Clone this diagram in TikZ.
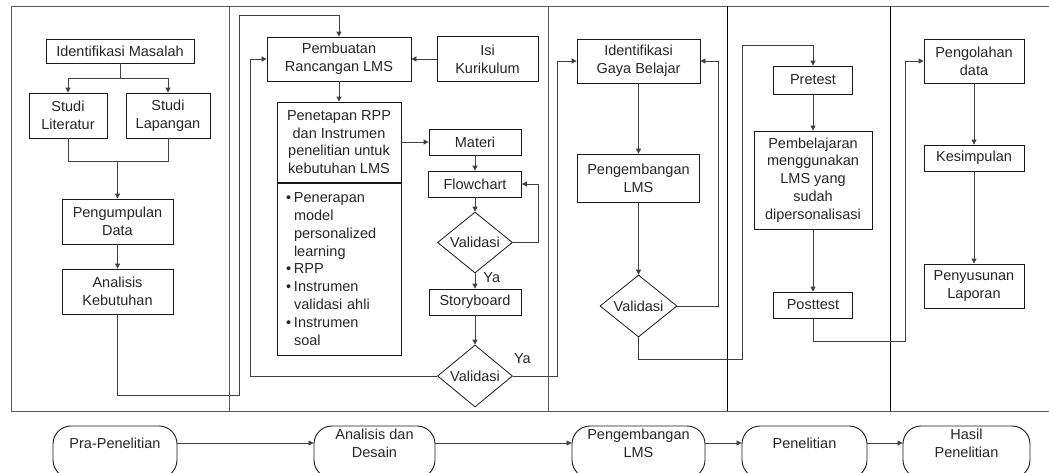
\documentclass[tikz,border=0pt]{standalone}
\usepackage{fontspec}
\setmainfont{Liberation Sans}
\usetikzlibrary{shapes.geometric,arrows.meta}

\newcommand{\flowfont}{\fontsize{14.5}{17.8}\selectfont}

\tikzset{
  box/.style={draw=black!90, line width=0.8pt, fill=white, text=black!85,
    inner sep=1pt, align=center, font=\flowfont},
  decision/.style={diamond, draw=black!90, line width=0.8pt, fill=white,
    text=black!85, inner sep=0pt, font=\flowfont,
    minimum width=75pt, minimum height=61pt},
  phase/.style={draw=black!90, line width=0.9pt, rounded corners=18pt,
    minimum height=52pt},
  phasetext/.style={text=black!85, align=center, font=\flowfont},
  conn/.style={draw=black!75, line width=0.8pt,
    -{Triangle[length=5pt,width=5pt]}},
  yalabel/.style={text=black!85, inner sep=2pt, font=\flowfont},
  frame/.style={draw=black!65, line width=1pt}
}

\begin{document}
\begin{tikzpicture}[x=1pt, y=-1pt]
   \useasboundingbox (0,0) rectangle (1049,472);

   % Frame and columns
   \draw[frame] (11,411) -- (11,6) -- (1049,6);
   \draw[frame] (11,411) -- (1049,411);
   \draw[frame] (229,6) -- (229,411);
   \draw[frame] (548,6) -- (548,411);
   \draw[frame, draw=black] (727,6) -- (727,411);
   \draw[frame, draw=black] (890,6) -- (890,411);

   % First column - Pra-Penelitian
   \begin{scope}
       \node[box, minimum width=148pt, minimum height=24pt] (im) at (120,51) {Identifikasi Masalah};
       \node[box, minimum width=78pt, minimum height=45pt] (slit) at (68,115.5) {Studi\\Literatur};
       \node[box, minimum width=84pt, minimum height=45pt] (slap) at (168,115.5) {Studi\\Lapangan};
       \node[box, minimum width=111pt, minimum height=45pt] (pd) at (117.5,221.5) {Pengumpulan\\Data};
       \node[box, minimum width=111pt, minimum height=45pt] (ak) at (117.5,291.5) {Analisis\\Kebutuhan};

       \draw[conn] (im.south) -- ++(0,15) -| (slit.north);
       \draw[conn] (im.south) -- ++(0,15) -| (slap.north);
       \draw[conn, -] (slit.south) -- ++(0,23) -| (slap.south);
       \coordinate (join) at (117.5,161);
       \draw[conn] (join) -- (pd.north);
       \draw[conn] (pd) -- (ak);
   \end{scope}

   % Second column - Analisis dan Desain
   \begin{scope}
       \node[box, minimum width=144pt, minimum height=44pt] (pr) at (339,59) {Pembuatan\\Rancangan LMS};
       \node[box, minimum width=101pt, minimum height=45pt] (isi) at (487.5,59) {Isi\\Kurikulum};
       \node[box, minimum width=124pt, minimum height=80pt] (pen) at (339,142) {Penetapan RPP\\dan Instrumen\\penelitian untuk\\kebutuhan LMS};
       \node[box, text width=106pt, inner xsep=9pt, minimum height=172pt, align=left] (bul) at (339,269)
           {\makebox[8pt][l]{\textbullet}Penerapan\\
            \hspace*{8pt}model\\
            \hspace*{8pt}personalized\\
            \hspace*{8pt}learning\\
            \makebox[8pt][l]{\textbullet}RPP\\
            \makebox[8pt][l]{\textbullet}Instrumen\\
            \hspace*{8pt}validasi ahli\\
            \makebox[8pt][l]{\textbullet}Instrumen\\
            \hspace*{8pt}soal};
       \node[box, minimum width=92pt, minimum height=26pt] (mat) at (475,142) {Materi};
       \node[box, minimum width=93pt, minimum height=26pt] (flow) at (475,184) {Flowchart};
       \node[decision] (v1) at (475,242.5) {Validasi};
       \node[box, minimum width=92pt, minimum height=26pt] (story) at (475,302) {Storyboard};
       \node[decision, minimum height=62pt] (v2) at (475,376) {Validasi};

       \draw[conn] (ak.south) |- (239,395) -- (239,15) -| (pr.north);
       \draw[conn] (isi) -- (pr);
       \draw[conn] (pr) -- (pen);
       \draw[conn] (pen) -- (mat);
       \draw[conn] (mat) -- (flow);
       \draw[conn] (flow) -- (v1);
       \draw[conn] (v1.east) -- (538,242.5) |- (flow.east);
       \draw[conn] (v1) -- node[yalabel, pos=0.25, right=6pt] (ya1) {Ya} (story);
       \draw[conn] (story) -- (v2);
       \draw[conn] (v2.west) -| (250,59) -- (pr.west);
       \node[yalabel, anchor=south west] (ya2) at ([shift={(-1,-10)}]v2.east) {Ya};
   \end{scope}

   % Third column - Pengembangan LMS
   \begin{scope}
       \node[box, minimum width=123pt, minimum height=44pt] (igb) at (638.5,61) {Identifikasi\\Gaya Belajar};
       \node[box, minimum width=122pt, minimum height=48pt] (peng) at (638.5,178) {Pengembangan\\LMS};
       \node[decision, minimum width=77pt, minimum height=62pt] (v3) at (638.5,306) {Validasi};

       \draw[conn] (v2.east) -- (557,376) |- (igb.west);
       \draw[conn] (igb) -- (peng);
       \draw[conn] (peng) -- (v3);
       \draw[conn] (v3.east) -- (718,306) |- (igb.east);
   \end{scope}

   % Fourth column - Penelitian
   \begin{scope}
       \node[box, minimum width=79pt, minimum height=28pt] (pre) at (813,80) {Pretest};
       \node[box, minimum width=118pt, minimum height=98pt] (pem) at (813,180) {Pembelajaran\\menggunakan\\LMS yang\\sudah\\dipersonalisasi};
       \node[box, minimum width=79pt, minimum height=26pt] (post) at (813,305) {Posttest};

       \draw[conn] (v3.south) |- (742,359) -- (742,45) -| (pre.north);
       \draw[conn] (pre) -- (pem);
       \draw[conn] (pem) -- (post);
   \end{scope}

   % Fifth column - Hasil Penelitian
   \begin{scope}
       \node[box, minimum width=100pt, minimum height=44pt] (pol) at (974,61) {Pengolahan\\data};
       \node[box, minimum width=100pt, minimum height=26pt] (kes) at (974,158) {Kesimpulan};
       \node[box, minimum width=100pt, minimum height=44pt] (pny) at (974,286) {Penyusunan\\Laporan};

       \draw[conn] (post.south) |- (905,341) |- (pol.west);
       \draw[conn] (pol) -- (kes);
       \draw[conn] (kes) -- (pny);
   \end{scope}

   % Phases
   \begin{scope}
       \node[phase, minimum width=124pt] (pra) at (115,452) {};
       \node[phase, minimum width=121pt] (ad) at (374.5,452) {};
       \node[phase, minimum width=133pt] (pl) at (638.5,452) {};
       \node[phase, minimum width=125pt] (pn) at (804.5,452) {};
       \node[phase, minimum width=127pt] (hp) at (966.5,452) {};

       \node[phasetext] (prat) at (115,443) {Pra-Penelitian};
       \node[phasetext] (adt) at (374.5,443) {Analisis dan\\Desain};
       \node[phasetext] (plt) at (638.5,443) {Pengembangan\\LMS};
       \node[phasetext] (pnt) at (804.5,443) {Penelitian};
       \node[phasetext] (hpt) at (966.5,443) {Hasil\\Penelitian};

       \draw[conn] ([yshift=9pt]pra.east) -- ([yshift=9pt]ad.west);
       \draw[conn] ([yshift=9pt]ad.east) -- ([yshift=9pt]pl.west);
       \draw[conn] ([yshift=9pt]pl.east) -- ([yshift=9pt]pn.west);
       \draw[conn] ([yshift=9pt]pn.east) -- ([yshift=9pt]hp.west);
   \end{scope}
\end{tikzpicture}
\end{document}
